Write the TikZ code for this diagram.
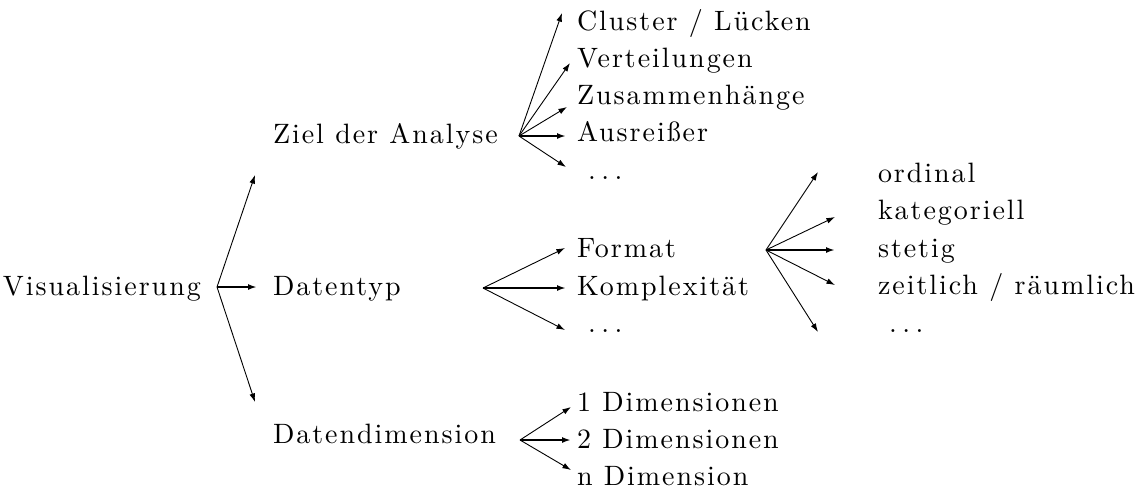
\documentclass[tikz,border=0pt]{standalone}
\usepackage{fontspec}
\usetikzlibrary{arrows.meta}

% slightly tracked roman for all labels
\newfontfamily\lblfont{lmroman10-regular.otf}[LetterSpace=7]
\newcommand{\contdots}{.\hspace{0.2em}.\hspace{0.2em}.}

\tikzset{
  lbl/.style={anchor=base west, inner sep=0pt, outer sep=0pt,
              font=\lblfont\fontsize{14}{16}\selectfont},
  branch/.style={line width=0.45pt, -{Latex[length=4.3pt,width=2.9pt]}},
  straight/.style={line width=0.9pt, -{Latex[length=4.5pt,width=3pt]}},
}

\begin{document}
\begin{tikzpicture}[x=0.5pt, y=-0.5pt]
  \useasboundingbox (0,0) rectangle (1136,489);

  % root
  \node[lbl] (vis) at (3,295) {Visualisierung};
  \coordinate (o0) at (217,287);
  \coordinate (t0a) at (255,175);
  \coordinate (t0b) at (257,287);
  \coordinate (t0c) at (255,402);
  \draw[branch] (o0) -- (t0a);
  \draw[straight] (o0) -- (t0b);
  \draw[branch] (o0) -- (t0c);

  % second level
  \node[lbl] (ziel) at (273,143) {Ziel der Analyse};
  \node[lbl] (typ)  at (273,295) {Datentyp};
  \node[lbl] (dim)  at (273,443) {Datendimension};

  % goals of the analysis
  \node[lbl] (g1) at (577,30)  {Cluster / Lücken};
  \node[lbl] (g2) at (577,67)  {Verteilungen};
  \node[lbl] (g3) at (577,104) {Zusammenhänge};
  \node[lbl] (g4) at (577,141) {Ausreißer};
  \node[lbl] (g5) at (588,179) {\contdots};
  \coordinate (o1) at (519,136);
  \coordinate (t1a) at (562,13);
  \coordinate (t1b) at (570,63);
  \coordinate (t1c) at (567,107);
  \coordinate (t1d) at (566,136);
  \coordinate (t1e) at (566,167);
  \draw[branch] (o1) -- (t1a);
  \draw[branch] (o1) -- (t1b);
  \draw[branch] (o1) -- (t1c);
  \draw[straight] (o1) -- (t1d);
  \draw[branch] (o1) -- (t1e);

  % data type
  \node[lbl] (f1) at (577,257) {Format};
  \node[lbl] (f2) at (577,295) {Komplexität};
  \node[lbl] (f3) at (588,332) {\contdots};
  \coordinate (o2) at (483,288);
  \coordinate (t2a) at (565,248);
  \coordinate (t2b) at (566,288);
  \coordinate (t2c) at (565,330);
  \draw[branch] (o2) -- (t2a);
  \draw[straight] (o2) -- (t2b);
  \draw[branch] (o2) -- (t2c);

  % scale levels
  \node[lbl] (k1) at (878,182) {ordinal};
  \node[lbl] (k2) at (878,219) {kategoriell};
  \node[lbl] (k3) at (878,257) {stetig};
  \node[lbl] (k4) at (878,294) {zeitlich / räumlich};
  \node[lbl] (k5) at (889,332) {\contdots};
  \coordinate (o3) at (766,250);
  \coordinate (t3a) at (818,172);
  \coordinate (t3b) at (835,217);
  \coordinate (t3c) at (835,250);
  \coordinate (t3d) at (835,285);
  \coordinate (t3e) at (818,332);
  \draw[branch] (o3) -- (t3a);
  \draw[branch] (o3) -- (t3b);
  \draw[straight] (o3) -- (t3c);
  \draw[branch] (o3) -- (t3d);
  \draw[branch] (o3) -- (t3e);

  % dimensions
  \node[lbl] (d1) at (577,411) {1 Dimensionen};
  \node[lbl] (d2) at (577,448) {2 Dimensionen};
  \node[lbl] (d3) at (577,485) {n Dimension};
  \coordinate (o4) at (520,440);
  \coordinate (t4a) at (571,407);
  \coordinate (t4b) at (571,440);
  \coordinate (t4c) at (571,470);
  \draw[branch] (o4) -- (t4a);
  \draw[straight] (o4) -- (t4b);
  \draw[branch] (o4) -- (t4c);
\end{tikzpicture}
\end{document}
